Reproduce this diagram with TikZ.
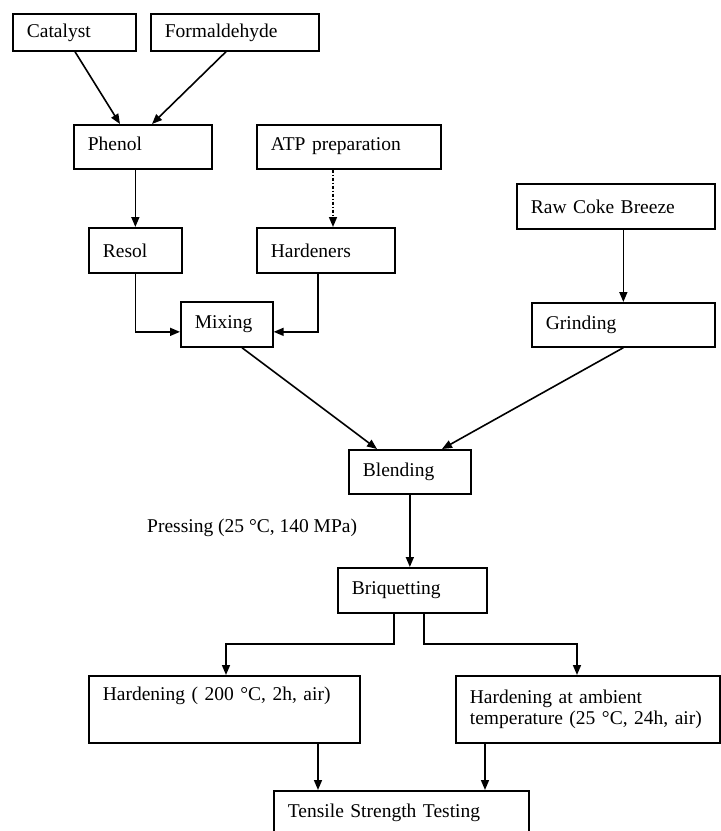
\documentclass[tikz,border=0pt]{standalone}
\usepackage{fontspec}
\setmainfont{Liberation Serif}
\usetikzlibrary{arrows.meta}
\newcommand\boxfont{\fontsize{19.5}{21}\selectfont}
\begin{document}
\begin{tikzpicture}[x=1pt,y=-1pt,
  box/.style={draw, line width=1.7pt, anchor=north west, inner xsep=14pt, inner ysep=0pt, align=left, font=\boxfont},
  arr/.style={line width=1.6pt, -{Triangle[length=10pt,width=8pt]}},
  dasharr/.style={arr, dash pattern=on 3pt off 2pt on 1pt off 2pt}]
\useasboundingbox[fill=white] (0,0) rectangle (721,831);

\node[box, text width=95pt,  minimum height=37pt] (cat)    at (12,13)  {Catalyst};
\node[box, text width=140pt, minimum height=37pt] (form)   at (150,13) {Formaldehyde};
\node[box, text width=110pt, minimum height=44pt, text height=16pt, text depth=9pt] (phenol) at (73,124) {Phenol};
\node[box, text width=156pt, minimum height=44pt, text height=16pt, text depth=9pt] (atp)    at (256,124) {ATP preparation};
\node[box, text width=65pt,  minimum height=45pt] (resol)  at (88,227) {Resol};
\node[box, text width=110pt, minimum height=45pt] (hard)   at (256,227) {Hardeners};
\node[box, text width=64pt,  minimum height=45pt] (mix)    at (180,301) {Mixing};
\node[box, text width=170pt, minimum height=45pt] (raw)    at (516,183) {Raw Coke Breeze};
\node[box, text width=155pt, minimum height=44pt] (grind)  at (531,302) {Grinding};
\node[box, text width=94pt,  minimum height=44pt] (blend)  at (348,449) {Blending};
\node[box, text width=121pt, minimum height=45pt] (briq)   at (337,567) {Briquetting};
\node[box, text width=243pt, minimum height=67pt, text height=25pt, text depth=42pt] (hardL) at (88,675) {Hardening ( 200 °C, 2h, air)};
\node[box, text width=236pt, minimum height=67pt] (hardR)  at (455,675) {Hardening at ambient\\temperature (25 °C, 24h, air)};
\node[box, text width=227pt, minimum height=44pt] (tens)   at (273,790) {Tensile Strength Testing};

\node[anchor=west, inner sep=0pt, font=\boxfont] (press) at (147,528) {Pressing (25 °C, 140 MPa)};

\draw[arr] ([xshift=63pt]cat.south west) -- ([xshift=47pt]phenol.north west);
\draw[arr] ([xshift=76pt]form.south west) -- ([xshift=79pt]phenol.north west);
\draw[arr] (phenol.south -| resol.north) -- (resol.north);
\coordinate (hin) at ([xshift=77pt]hard.north west);
\draw[dasharr] (atp.south -| hin) -- (hin);
\draw[arr] (resol.south) |- ([yshift=-7.5pt]mix.west);
\draw[arr] ([xshift=62pt]hard.south west) |- ([yshift=-7.5pt]mix.east);
\draw[arr] (raw.south -| grind.north) -- (grind.north);
\draw[arr] ([xshift=62pt]mix.south west) -- ([xshift=29pt]blend.north west);
\draw[arr] (grind.south) -- ([xshift=94pt]blend.north west);
\draw[arr] (blend.south) -- (blend.south |- briq.north);
\draw[arr] ([xshift=57pt]briq.south west) -- ++(0,30) -| ([xshift=138pt]hardL.north west);
\draw[arr] ([xshift=87pt]briq.south west) -- ++(0,30) -| ([xshift=122pt]hardR.north west);
\coordinate (tinL) at ([xshift=45pt]tens.north west);
\coordinate (tinR) at ([xshift=212pt]tens.north west);
\draw[arr] (hardL.south -| tinL) -- (tinL);
\draw[arr] (hardR.south -| tinR) -- (tinR);
\end{tikzpicture}
\end{document}
